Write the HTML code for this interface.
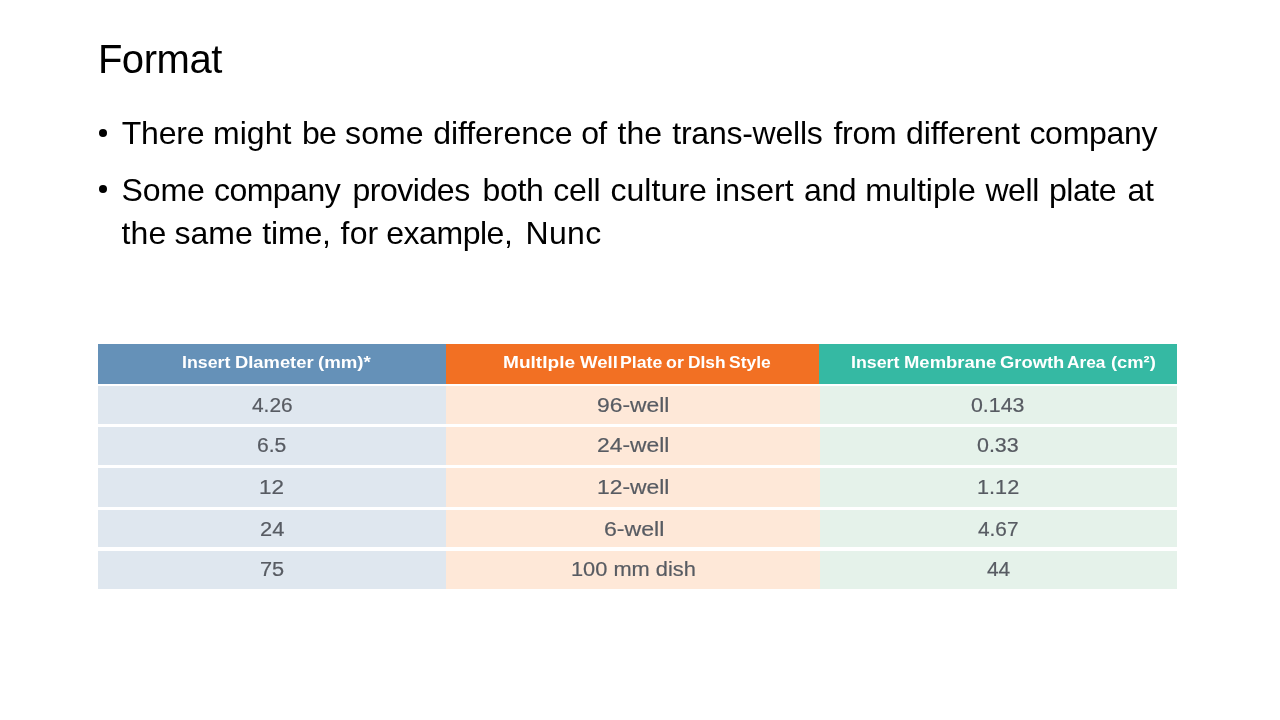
<!DOCTYPE html>
<html>
<head>
<meta charset="utf-8">
<title>Format</title>
<style>
  html, body { margin: 0; padding: 0; }
  body {
    width: 1280px; height: 720px; overflow: hidden; background: #ffffff;
    font-family: "Liberation Sans", sans-serif; color: #000; position: relative;
  }
  .t { position: absolute; white-space: nowrap; line-height: 1; font-variant-ligatures: none; }
  .x { transform-origin: 0 0; }
  .th { font-weight: bold; font-size: 17px; color: #fff; }
  .td { font-size: 19.5px; color: #575b62; -webkit-text-stroke: 0.2px #575b62; }
  .title { left: 97.9px; top: 38.7px; font-size: 40px; letter-spacing: -0.45px; }
  .body { font-size: 32px; }
  .dot { position: absolute; width: 8px; height: 8px; border-radius: 50%; background: #000; left: 99.4px; }

  .txt { position: absolute; left: 0; top: 0; width: 1280px; height: 300px; filter: grayscale(1); }
  /* table (soft raster look) */
  .tbl { position: absolute; left: 0; top: 0; width: 1280px; height: 720px; filter: saturate(1.0001); }
  .cell { position: absolute; display: flex; align-items: center; justify-content: center; overflow: visible; }
  .c1 { left: 98px; width: 348.2px; }
  .c2 { left: 446.2px; width: 373.8px; }
  .c3 { left: 820px; width: 357.3px; }
  .h { top: 344.4px; height: 39.2px; color: #fff; font-weight: bold; font-size: 17px; }
  .h.c1 { background: #6591b8; }
  .h.c2 { background: #f27023; width: 373.2px; }
  .h.c3 { background: #35b9a3; left: 819.4px; width: 357.9px; }
  .r { color: #54585e; font-size: 19.5px; }
  .r.c1 { background: #dfe7ef; }
  .r.c2 { background: #fee8d8; }
  .r.c3 { background: #e5f2ea; }
  .r1 { top: 386.3px; height: 37.4px; }
  .r2 { top: 426.7px; height: 38.6px; }
  .r3 { top: 468.4px; height: 38.6px; }
  .r4 { top: 510.3px; height: 37.2px; }
  .r5 { top: 550.6px; height: 38.9px; }
</style>
</head>
<body>
  <div class="txt">
  <div class="t title">Format</div>

  <div class="dot" style="top:128.8px"></div>
  <div class="dot" style="top:185.3px"></div>
  <!--WORDS-->
  <div class="t body" style="top:117.0px;left:121.75px;letter-spacing:-0.188px">There</div>
  <div class="t body" style="top:117.0px;left:213.00px;letter-spacing:0.031px">might</div>
  <div class="t body" style="top:117.0px;left:301.88px;letter-spacing:-0.625px">be</div>
  <div class="t body" style="top:117.0px;left:345.12px;letter-spacing:0.042px">some</div>
  <div class="t body" style="top:117.0px;left:433.25px;letter-spacing:-0.069px">difference</div>
  <div class="t body" style="top:117.0px;left:581.25px;letter-spacing:-0.750px">of</div>
  <div class="t body" style="top:117.0px;left:617.62px;letter-spacing:-0.062px">the</div>
  <div class="t body" style="top:117.0px;left:672.25px;letter-spacing:-0.237px">trans-wells</div>
  <div class="t body" style="top:117.0px;left:833.38px;letter-spacing:-0.208px">from</div>
  <div class="t body" style="top:117.0px;left:906.00px;letter-spacing:-0.109px">different</div>
  <div class="t body" style="top:117.0px;left:1029.38px;letter-spacing:-0.271px">company</div>
  <div class="t body" style="top:173.5px;left:121.62px;letter-spacing:-0.125px">Some</div>
  <div class="t body" style="top:173.5px;left:214.00px;letter-spacing:-0.533px">company</div>
  <div class="t body" style="top:173.5px;left:352.50px;letter-spacing:-0.471px">provides</div>
  <div class="t body" style="top:173.5px;left:482.50px;letter-spacing:-0.325px">both</div>
  <div class="t body" style="top:173.5px;left:553.25px;letter-spacing:-0.208px">cell</div>
  <div class="t body" style="top:173.5px;left:610.38px;letter-spacing:0.083px">culture</div>
  <div class="t body" style="top:173.5px;left:715.00px;letter-spacing:0.100px">insert</div>
  <div class="t body" style="top:173.5px;left:804.00px;letter-spacing:-0.375px">and</div>
  <div class="t body" style="top:173.5px;left:865.25px;letter-spacing:0.036px">multiple</div>
  <div class="t body" style="top:173.5px;left:985.38px;letter-spacing:-0.417px">well</div>
  <div class="t body" style="top:173.5px;left:1048.88px;letter-spacing:-0.406px">plate</div>
  <div class="t body" style="top:173.5px;left:1127.38px;letter-spacing:-0.250px">at</div>
  <div class="t body" style="top:217.2px;left:121.62px;letter-spacing:0.062px">the</div>
  <div class="t body" style="top:217.2px;left:174.38px;letter-spacing:0.083px">same</div>
  <div class="t body" style="top:217.2px;left:262.25px;letter-spacing:-0.150px">time,</div>
  <div class="t body" style="top:217.2px;left:340.62px;letter-spacing:0.138px">for</div>
  <div class="t body" style="top:217.2px;left:386.25px;letter-spacing:-0.464px">example,</div>
  <div class="t body" style="top:217.2px;left:525.50px;letter-spacing:0.333px">Nunc</div>
  <!--/WORDS-->
  </div>

  <div class="tbl">
  <div class="cell h c1"></div>
  <div class="cell h c2"></div>
  <div class="cell h c3"></div>

  <div class="cell r r1 c1"></div>
  <div class="cell r r1 c2"></div>
  <div class="cell r r1 c3"></div>

  <div class="cell r r2 c1"></div>
  <div class="cell r r2 c2"></div>
  <div class="cell r r2 c3"></div>

  <div class="cell r r3 c1"></div>
  <div class="cell r r3 c2"></div>
  <div class="cell r r3 c3"></div>

  <div class="cell r r4 c1"></div>
  <div class="cell r r4 c2"></div>
  <div class="cell r r4 c3"></div>

  <div class="cell r r5 c1"></div>
  <div class="cell r r5 c2"></div>
  <div class="cell r r5 c3"></div>
  <!--TT-->
  <div class="t x th" style="top:354.01px;left:182.40px;transform:scaleX(1.0438)">Insert</div>
  <div class="t x th" style="top:354.01px;left:235.04px;transform:scaleX(1.0795)">DIameter</div>
  <div class="t x th" style="top:354.01px;left:318.00px;transform:scaleX(1.0969)">(mm)*</div>
  <div class="t x th" style="top:354.01px;left:502.84px;transform:scaleX(1.1224)">MultIple</div>
  <div class="t x th" style="top:354.01px;left:579.60px;transform:scaleX(1.0933)">Well</div>
  <div class="t x th" style="top:354.01px;left:619.96px;transform:scaleX(1.0410)">Plate</div>
  <div class="t x th" style="top:354.01px;left:666.04px;transform:scaleX(1.0473)">or</div>
  <div class="t x th" style="top:354.01px;left:687.96px;transform:scaleX(1.0203)">DIsh</div>
  <div class="t x th" style="top:354.01px;left:729.04px;transform:scaleX(1.0289)">Style</div>
  <div class="t x th" style="top:354.01px;left:850.84px;transform:scaleX(1.0469)">Insert</div>
  <div class="t x th" style="top:354.01px;left:903.60px;transform:scaleX(1.0856)">Membrane</div>
  <div class="t x th" style="top:354.01px;left:999.84px;transform:scaleX(1.0800)">Growth</div>
  <div class="t x th" style="top:354.01px;left:1067.04px;transform:scaleX(1.0181)">Area</div>
  <div class="t x th" style="top:354.01px;left:1110.84px;transform:scaleX(1.0783)">(cm²)</div>
  <div class="t x td" style="top:396.29px;left:252.24px;transform:scaleX(1.0700)">4.26</div>
  <div class="t x td" style="top:396.29px;left:597.08px;transform:scaleX(1.1702)">96-well</div>
  <div class="t x td" style="top:396.29px;left:971.20px;transform:scaleX(1.0938)">0.143</div>
  <div class="t x td" style="top:436.49px;left:257.08px;transform:scaleX(1.0832)">6.5</div>
  <div class="t x td" style="top:436.49px;left:597.08px;transform:scaleX(1.1702)">24-well</div>
  <div class="t x td" style="top:436.49px;left:977.12px;transform:scaleX(1.0984)">0.33</div>
  <div class="t x td" style="top:477.69px;left:259.36px;transform:scaleX(1.1511)">12</div>
  <div class="t x td" style="top:477.69px;left:596.72px;transform:scaleX(1.1721)">12-well</div>
  <div class="t x td" style="top:477.69px;left:976.76px;transform:scaleX(1.1117)">1.12</div>
  <div class="t x td" style="top:519.99px;left:260.00px;transform:scaleX(1.1197)">24</div>
  <div class="t x td" style="top:519.99px;left:603.84px;transform:scaleX(1.1853)">6-well</div>
  <div class="t x td" style="top:519.99px;left:978.32px;transform:scaleX(1.0667)">4.67</div>
  <div class="t x td" style="top:560.39px;left:260.16px;transform:scaleX(1.1154)">75</div>
  <div class="t x td" style="top:560.39px;left:570.56px;transform:scaleX(1.1180)">100 mm dish</div>
  <div class="t x td" style="top:560.39px;left:986.60px;transform:scaleX(1.0700)">44</div>
  <!--/TT-->
  </div>
</body>
</html>
